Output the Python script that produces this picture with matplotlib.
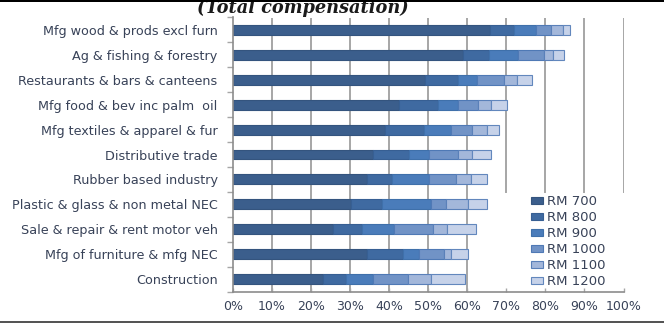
import matplotlib
matplotlib.use("Agg")
import matplotlib.pyplot as plt
import numpy as np
from matplotlib.patches import Rectangle

# Share of workers (cumulative bands) by minimum-wage threshold, per sector
categories = [
    "Mfg wood & prods excl furn",
    "Ag & fishing & forestry",
    "Restaurants & bars & canteens",
    "Mfg food & bev inc palm  oil",
    "Mfg textiles & apparel & fur",
    "Distributive trade",
    "Rubber based industry",
    "Plastic & glass & non metal NEC",
    "Sale & repair & rent motor veh",
    "Mfg of furniture & mfg NEC",
    "Construction",
]
series_names = ["RM 700", "RM 800", "RM 900", "RM 1000", "RM 1100", "RM 1200"]
rm700 = [65.8, 58.8, 49.2, 42.6, 38.8, 35.8, 34.4, 30.3, 25.6, 34.4, 23.0]
rm800 = [6.2, 6.7, 8.5, 9.9, 10.1, 9.2, 6.3, 7.9, 7.4, 9.2, 6.0]
rm900 = [5.6, 7.6, 4.7, 5.2, 7.0, 5.3, 9.6, 12.4, 8.3, 4.1, 6.9]
rm1000 = [3.8, 6.6, 7.0, 5.0, 5.2, 7.3, 6.9, 4.0, 9.8, 6.3, 9.0]
rm1100 = [3.0, 2.2, 3.2, 3.4, 4.0, 3.6, 3.7, 5.5, 3.6, 1.9, 5.9]
rm1200 = [1.9, 2.8, 3.9, 4.0, 3.0, 4.8, 4.1, 4.9, 7.5, 4.3, 8.5]
x_ticks = list(range(0, 101, 10))
x_tick_labels = [f"{v}%" for v in x_ticks]

series = [rm700, rm800, rm900, rm1000, rm1100, rm1200]
face_colors = ["#3b5e8c", "#3f6aa1", "#4a7cba", "#7193c6", "#a3b7da", "#c6d2e9"]
edge_colors = ["#34547e", "#375f93", "#3f70aa", "#4f79b5", "#5a80b9", "#6287bd"]
text_color = "#384258"
grid_color = "#a6a6a6"

fig = plt.figure(figsize=(6.64, 3.23), dpi=100)
fig.patch.set_facecolor("white")
ax = fig.add_axes([233 / 664, 1 - 291.5 / 323, (623.5 - 233) / 664, (291.5 - 17.5) / 323])

n = len(categories)
y = np.arange(n)

# vertical gridlines; the right-hand ones stop above the legend block
legend_top_frac = (291.5 - 192) / 274
for v in x_ticks[1:]:
    ymin = legend_top_frac if v >= 70 else 0
    ax.axvline(v, ymin=ymin, ymax=1, color=grid_color, lw=1.4, zorder=0.5)

left = np.zeros(n)
for vals, name, fc, ec in zip(series, series_names, face_colors, edge_colors):
    vals = np.asarray(vals, dtype=float)
    ax.barh(y, vals, left=left, height=0.4, color=fc, edgecolor=ec,
            linewidth=0.8, label=name, zorder=2)
    left += vals

ax.set_xlim(0, 100)
ax.set_ylim(n - 0.5, -0.5)

ax.set_xticks(x_ticks)
ax.set_xticklabels(x_tick_labels, fontsize=9.0, color=text_color)
ax.tick_params(axis="x", direction="in", length=3, width=1, color=grid_color, pad=6)

ax.set_yticks(y)
ax.set_yticklabels(categories, fontsize=9.2, color=text_color)
ax.tick_params(axis="y", which="major", length=0, pad=11)
ax.set_yticks(np.arange(n + 1) - 0.5, minor=True)
ax.tick_params(axis="y", which="minor", direction="out", length=4, width=1, color=grid_color)

for side in ("top", "right"):
    ax.spines[side].set_visible(False)
for side in ("left", "bottom"):
    ax.spines[side].set_color("#8c8c8c")
    ax.spines[side].set_linewidth(1.2)

leg = ax.legend(loc="upper left", bbox_to_anchor=(0.763, 0.352),
                frameon=False, fontsize=9.5, handlelength=0.9, handleheight=0.4,
                handletextpad=0.3, labelspacing=0.23, borderaxespad=0,
                borderpad=0)
for t in leg.get_texts():
    t.set_color(text_color)

fig.text(0.456, 1 - 8 / 323, "(Total compensation)", ha="center", va="center",
         fontsize=12.8, family="DejaVu Serif", style="italic", weight="bold",
         color="#1a1a1a")

# frame lines along top and bottom edges of the image
fig.patches.append(Rectangle((0, 1 - 2 / 323), 1, 2 / 323, transform=fig.transFigure,
                             facecolor="black", edgecolor="none", zorder=10))
fig.patches.append(Rectangle((0, 0), 1, 2.5 / 323, transform=fig.transFigure,
                             facecolor="#555555", edgecolor="none", zorder=10))

fig.savefig("out.png", dpi=100, facecolor="white")
